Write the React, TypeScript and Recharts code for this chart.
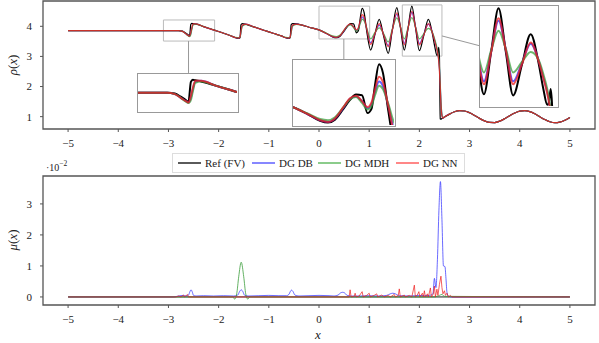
import React from 'react';
import { LineChart, Line, XAxis, YAxis, ReferenceArea, ReferenceLine } from 'recharts';

const FONT = "'Liberation Serif','Times New Roman',serif";

// ---- density rho(x) ----
const rhoX = [
  -5, -4, -3, -2.8, -2.72, -2.66, -2.61, -2.58, -2.555, -2.535, -2.51, -2.45,
  -2.3, -2.1, -1.9, -1.75, -1.66, -1.6, -1.575, -1.555, -1.53, -1.45,
  -1.3, -1.1, -0.9, -0.75, -0.66, -0.6, -0.575, -0.555, -0.53, -0.45,
  -0.36, -0.2, 0, 0.15, 0.27, 0.35, 0.42, 0.5, 0.57, 0.63,
  0.69, 0.745, 0.785, 0.82, 0.86, 0.9, 0.95, 1.03, 1.11, 1.2,
  1.29, 1.38, 1.46, 1.55, 1.625, 1.7, 1.775, 1.85, 1.925, 2.0,
  2.09, 2.18, 2.26, 2.31, 2.35, 2.37, 2.385, 2.4, 2.415, 2.43,
  2.45, 2.47, 2.5, 2.6, 2.7, 2.8, 2.9, 3.0, 3.1, 3.2,
  3.3, 3.4, 3.5, 3.6, 3.7, 3.8, 3.9, 4.0, 4.1, 4.2,
  4.3, 4.4, 4.5, 4.6, 4.7, 4.8, 4.9, 5.0,
];
const rhoTail = [
  0.987, 1.084, 1.161, 1.198, 1.187, 1.13, 1.041, 0.942,
  0.858, 0.808, 0.804, 0.85, 0.932, 1.03, 1.121, 1.183, 1.199, 1.167,
  1.094, 0.998, 0.903, 0.831, 0.801, 0.819, 0.882, 0.974,
];
const rhoRef = [
  3.857, 3.857, 3.857, 3.855, 3.84, 3.78, 3.72, 3.68, 4.06, 4.1, 4.09, 4.07,
  3.99, 3.88, 3.77, 3.68, 3.62, 3.6, 3.62, 4.05, 4.09, 4.06,
  3.98, 3.87, 3.76, 3.68, 3.62, 3.6, 3.62, 4.05, 4.09, 4.08,
  4.05, 3.97, 3.88, 3.76, 3.65, 3.62, 3.67, 3.84, 4.0, 4.09,
  4.08, 3.78, 3.85, 4.25, 4.6, 4.45, 3.85, 3.21, 3.7, 4.23,
  3.66, 3.1, 3.86, 4.62, 3.93, 3.21, 3.94, 4.67, 3.93, 3.19,
  3.71, 4.23, 3.75, 3.3, 3.03, 3.1, 3.3, 3.0, 0.93, 0.915,
  0.94, 0.96, ...rhoTail,
];
const rhoNn = [
  3.857, 3.857, 3.857, 3.855, 3.83, 3.76, 3.7, 3.67, 3.8, 3.95, 4.08, 4.08,
  3.99, 3.88, 3.77, 3.68, 3.62, 3.61, 3.64, 3.85, 4.04, 4.07,
  3.98, 3.87, 3.76, 3.68, 3.62, 3.61, 3.64, 3.85, 4.04, 4.07,
  4.05, 3.97, 3.88, 3.76, 3.66, 3.63, 3.69, 3.87, 4.03, 4.07,
  3.98, 3.88, 3.96, 4.18, 4.39, 4.3, 3.92, 3.4, 3.73, 4.09,
  3.7, 3.32, 3.86, 4.45, 3.96, 3.38, 3.93, 4.5, 3.96, 3.38,
  3.72, 4.09, 3.78, 3.48, 3.22, 3.05, 2.85, 2.5, 2.0, 1.4,
  1.02, 0.95, ...rhoTail,
];
const rhoDb = [
  3.857, 3.857, 3.857, 3.855, 3.83, 3.76, 3.7, 3.67, 3.76, 3.92, 4.06, 4.08,
  3.99, 3.88, 3.77, 3.68, 3.62, 3.61, 3.63, 3.8, 4.02, 4.07,
  3.98, 3.87, 3.76, 3.68, 3.62, 3.61, 3.63, 3.8, 4.02, 4.07,
  4.05, 3.97, 3.88, 3.76, 3.66, 3.63, 3.69, 3.86, 4.02, 4.06,
  3.98, 3.86, 3.93, 4.13, 4.31, 4.23, 3.93, 3.45, 3.73, 4.04,
  3.72, 3.36, 3.87, 4.4, 3.97, 3.43, 3.94, 4.46, 3.97, 3.43,
  3.74, 4.07, 3.79, 3.5, 3.25, 3.08, 2.9, 2.6, 2.1, 1.5,
  1.05, 0.95, ...rhoTail,
];
const rhoMdh = [
  3.857, 3.857, 3.857, 3.855, 3.83, 3.76, 3.69, 3.66, 3.72, 3.88, 4.04, 4.07,
  3.99, 3.88, 3.77, 3.68, 3.63, 3.62, 3.63, 3.78, 4.0, 4.06,
  3.98, 3.87, 3.76, 3.68, 3.63, 3.62, 3.63, 3.78, 4.0, 4.06,
  4.05, 3.97, 3.88, 3.77, 3.68, 3.66, 3.71, 3.87, 4.01, 4.05,
  3.95, 3.84, 3.9, 4.08, 4.24, 4.18, 3.95, 3.58, 3.78, 3.95,
  3.75, 3.48, 3.9, 4.28, 3.98, 3.58, 3.96, 4.29, 3.98, 3.58,
  3.76, 3.93, 3.8, 3.55, 3.3, 3.12, 2.95, 2.65, 2.15, 1.55,
  1.08, 0.96, ...rhoTail,
];

// ---- viscosity mu(x), units of 1e-2 ----
const muRefX = [-5, 5];
const muRef = [0, 0];
const muDbX = [
  -5, -2.9, -2.8, -2.7, -2.65, -2.6, -2.57, -2.55, -2.53, -2.5, -2.45, -2.3, -2.1, -1.9,
  -1.7, -1.62, -1.58, -1.55, -1.52, -1.48, -1.4, -1.2, -1.0, -0.8, -0.65, -0.6, -0.57,
  -0.55, -0.52, -0.48, -0.4, -0.2, 0, 0.2, 0.3, 0.38, 0.43, 0.47, 0.51, 0.56, 0.65, 0.8,
  1.0, 1.2, 1.35, 1.42, 1.47, 1.52, 1.6, 1.8, 2.0, 2.1, 2.2, 2.27, 2.3, 2.33, 2.36, 2.39,
  2.42, 2.45, 2.48, 2.51, 2.53, 2.55, 2.58, 2.65, 5,
];
const muDb = [
  0, 0, 0.03, 0.05, 0.03, 0.06, 0.18, 0.23, 0.18, 0.05, 0.03, 0.04, 0.03, 0.04,
  0.03, 0.06, 0.18, 0.23, 0.18, 0.05, 0.03, 0.04, 0.05, 0.04, 0.04, 0.08, 0.18,
  0.22, 0.18, 0.06, 0.03, 0.04, 0.05, 0.04, 0.03, 0.06, 0.13, 0.15, 0.13, 0.05, 0.03, 0.03,
  0.04, 0.03, 0.05, 0.1, 0.12, 0.1, 0.04, 0.03, 0.05, 0.04, 0.05, 0.1, 0.6, 0.3, 1.2, 2.8,
  3.72, 2.5, 1.0, 0.98, 0.6, 0.15, 0.02, 0, 0,
];
const muMdhX = [-5, -1.8, -1.72, -1.68, -1.64, -1.6, -1.55, -1.5, -1.46, -1.42, -1.38, -1.3, 2.3, 2.4, 2.45, 2.5, 5];
const muMdh = [0, 0, 0, -0.07, 0.1, 0.65, 1.12, 0.65, 0.1, -0.07, 0, 0, 0, 0.05, 0.08, 0.02, 0];
const muNnX = [
  -5, -2.85, -2.8, -2.75, -2.7, -2.68, -2.62, -2.6, 0.5, 0.6, 0.62, 0.64, 0.7, 0.72, 0.74,
  0.8, 0.86, 0.88, 0.95, 1.0, 1.02, 1.1, 1.15, 1.17, 1.25, 1.3, 1.38, 1.42, 1.5, 1.52,
  1.58, 1.6, 1.62, 1.7, 1.72, 1.8, 1.85, 1.9, 1.92, 1.96, 1.99, 2.01, 2.06, 2.08, 2.1,
  2.12, 2.16, 2.18, 2.22, 2.24, 2.28, 2.3, 2.32, 2.35, 2.37, 2.4, 2.43, 2.45, 2.47, 2.5,
  2.52, 2.55, 2.58, 2.62, 2.65, 5,
];
const muNn = [
  0, 0, 0.03, 0, 0.06, 0, 0.08, 0, 0, 0, 0.23, 0, 0.02, 0.12, 0,
  0.03, 0.17, 0, 0.05, 0.12, 0, 0.05, 0.1, 0, 0.06, 0, 0.05, 0, 0.08, 0,
  0.05, 0.26, 0, 0.06, 0, 0.05, 0, 0.38, 0, 0.06, 0.17, 0, 0.12, 0, 0.2,
  0, 0.1, 0, 0.29, 0, 0.1, 0.35, 0, 0.25, 0.05, 0.4, 0.67, 0.3, 0.1, 0.2,
  0.05, 0.12, 0, 0.05, 0, 0,
];

const xTicks = [-5, -4, -3, -2, -1, 0, 1, 2, 3, 4, 5];
const rhoTicks = [1, 2, 3, 4];
const muTicks = [0, 1, 2, 3];

const legendItems = [
  { name: 'Ref (FV)', color: '#000000' },
  { name: 'DG DB', color: '#4646ff' },
  { name: 'DG MDH', color: '#4cb04c' },
  { name: 'DG NN', color: '#ff4646' },
];

const rhoData = rhoX.map((x, i) => ({ x, ref: rhoRef[i], db: rhoDb[i], mdh: rhoMdh[i], nn: rhoNn[i] }));
const pts = (xs: number[], ys: number[]) => xs.map((x, i) => ({ x, y: ys[i] }));

const fmt = (v: number) => (v < 0 ? '\u2212' + Math.abs(v) : String(v));
const tickStyle = { fill: '#222', fontSize: 11, fontFamily: FONT };
const C = { ref: '#000000', db: '#2b2bff', mdh: '#3d9f3d', nn: '#ee1c1c' };

const rhoLines = (w: number, op: number) => [
  <Line key="ref" type="monotone" dataKey="ref" stroke={C.ref} strokeWidth={w} dot={false} isAnimationActive={false} />,
  <Line key="db" type="monotone" dataKey="db" stroke={C.db} strokeOpacity={op} strokeWidth={w} dot={false} isAnimationActive={false} />,
  <Line key="mdh" type="monotone" dataKey="mdh" stroke={C.mdh} strokeOpacity={op} strokeWidth={w} dot={false} isAnimationActive={false} />,
  <Line key="nn" type="monotone" dataKey="nn" stroke={C.nn} strokeOpacity={op} strokeWidth={w} dot={false} isAnimationActive={false} />,
];

function Inset(props: { left: number; top: number; width: number; height: number; xd: number[]; yd: number[] }) {
  const { left, top, width, height, xd, yd } = props;
  return (
    <div style={{ position: 'absolute', left, top, width, height, border: '1.5px solid #999', boxSizing: 'border-box', background: '#fff' }}>
      <LineChart width={width - 3} height={height - 3} data={rhoData} margin={{ top: 0, right: 0, bottom: 0, left: 0 }}>
        <XAxis type="number" dataKey="x" domain={xd} allowDataOverflow hide />
        <YAxis type="number" domain={yd} allowDataOverflow hide />
        {rhoLines(2, 0.75)}
      </LineChart>
    </div>
  );
}

export default function App() {
  return (
    <div style={{ position: 'absolute', left: 0, top: 0, width: 599, height: 343, background: '#fff', fontFamily: FONT }}>
      <div style={{ position: 'absolute', left: 0, top: 0 }}>
        <LineChart width={599} height={152} data={rhoData} margin={{ top: 1, right: 4, bottom: 0, left: 0 }}>
          <XAxis type="number" dataKey="x" domain={[-5.5, 5.5]} ticks={xTicks} tickFormatter={fmt} allowDataOverflow
            height={23} tickSize={3} tickMargin={7} axisLine={false} tickLine={{ stroke: '#555' }} tick={tickStyle} />
          <YAxis type="number" domain={[0.59, 4.84]} ticks={rhoTicks} allowDataOverflow
            width={43} tickSize={3} tickMargin={8} axisLine={false} tickLine={{ stroke: '#555' }} tick={tickStyle} />
          <ReferenceArea x1={-5.5} x2={5.5} y1={0.59} y2={4.84} fill="none" stroke="#555" strokeWidth={1.3} />
          <ReferenceArea x1={-3.1} x2={-2.08} y1={3.51} y2={4.21} fill="none" stroke="#bbb" />
          <ReferenceArea x1={0} x2={1.01} y1={3.58} y2={4.67} fill="none" stroke="#bbb" />
          <ReferenceArea x1={1.66} x2={2.45} y1={3.01} y2={4.71} fill="none" stroke="#bbb" />
          <ReferenceLine segment={[{ x: -2.6, y: 3.51 }, { x: -2.6, y: 2.45 }]} stroke="#999" />
          <ReferenceLine segment={[{ x: 0.495, y: 3.58 }, { x: 0.495, y: 2.91 }]} stroke="#999" />
          <ReferenceLine segment={[{ x: 2.45, y: 3.68 }, { x: 3.21, y: 3.35 }]} stroke="#999" />
          {rhoLines(1.2, 0.8)}
        </LineChart>
      </div>
      <Inset left={137} top={73} width={102} height={40} xd={[-3.1, -2.08]} yd={[3.51, 4.21]} />
      <Inset left={292} top={59} width={104} height={68} xd={[0, 1.01]} yd={[3.58, 4.67]} />
      <Inset left={479} top={5} width={80} height={103} xd={[1.66, 2.45]} yd={[3.01, 4.71]} />

      <div style={{ position: 'absolute', left: 0, top: 170 }}>
        <LineChart width={599} height={171} margin={{ top: 6, right: 4, bottom: 0, left: 0 }}>
          <XAxis type="number" dataKey="x" domain={[-5.5, 5.5]} ticks={xTicks} tickFormatter={fmt} allowDataOverflow
            height={36} tickSize={3} tickMargin={7} axisLine={false} tickLine={{ stroke: '#555' }} tick={tickStyle} />
          <YAxis type="number" dataKey="y" domain={[-0.26, 3.9]} ticks={muTicks} allowDataOverflow
            width={43} tickSize={3} tickMargin={8} axisLine={false} tickLine={{ stroke: '#555' }} tick={tickStyle} />
          <ReferenceArea x1={-5.5} x2={5.5} y1={-0.26} y2={3.9} fill="none" stroke="#555" strokeWidth={1.3} />
          <Line data={pts(muRefX, muRef)} dataKey="y" type="linear" stroke={C.ref} strokeWidth={0.9} dot={false} isAnimationActive={false} />
          <Line data={pts(muDbX, muDb)} dataKey="y" type="monotone" stroke={C.db} strokeOpacity={0.7} strokeWidth={1} dot={false} isAnimationActive={false} />
          <Line data={pts(muMdhX, muMdh)} dataKey="y" type="monotone" stroke={C.mdh} strokeOpacity={0.8} strokeWidth={1} dot={false} isAnimationActive={false} />
          <Line data={pts(muNnX, muNn)} dataKey="y" type="linear" stroke={C.nn} strokeOpacity={0.7} strokeWidth={1} dot={false} isAnimationActive={false} />
        </LineChart>
      </div>

      {/* axis labels */}
      <div style={{ position: 'absolute', left: 13, top: 65, transform: 'translate(-50%,-50%) rotate(-90deg)', fontSize: 13, whiteSpace: 'nowrap', color: '#222' }}>
        <i>ρ</i>(<i>x</i>)
      </div>
      <div style={{ position: 'absolute', left: 13, top: 240, transform: 'translate(-50%,-50%) rotate(-90deg)', fontSize: 13, whiteSpace: 'nowrap', color: '#222' }}>
        <i>μ</i>(<i>x</i>)
      </div>
      <div style={{ position: 'absolute', left: 318, top: 335, transform: 'translate(-50%,-50%)', fontSize: 13, color: '#222' }}>
        <i>x</i>
      </div>
      <div style={{ position: 'absolute', left: 46, top: 162, fontSize: 10, color: '#222', whiteSpace: 'nowrap' }}>
        ·10<sup style={{ fontSize: 7.5, verticalAlign: 'top', position: 'relative', top: -3 }}>−2</sup>
      </div>

      {/* legend */}
      <div style={{ position: 'absolute', left: 172, top: 153, width: 293, height: 20, border: '1px solid #ddd', boxSizing: 'border-box', background: '#fff' }}>
        <svg width={291} height={18} style={{ position: 'absolute', left: 0, top: 0 }}>
          {legendItems.map((it, i) => {
            const lx = [5, 79, 145, 223][i];
            return <line key={it.name} x1={lx} x2={lx + 23} y1={9} y2={9} stroke={it.color} strokeWidth={1.3} />;
          })}
        </svg>
        {legendItems.map((it, i) => {
          const lx = [5, 79, 145, 223][i];
          return (
            <span key={it.name} style={{ position: 'absolute', left: lx + 27, top: 1, lineHeight: '16px', fontSize: 11, color: '#222', whiteSpace: 'nowrap' }}>{it.name}</span>
          );
        })}
      </div>
    </div>
  );
}
